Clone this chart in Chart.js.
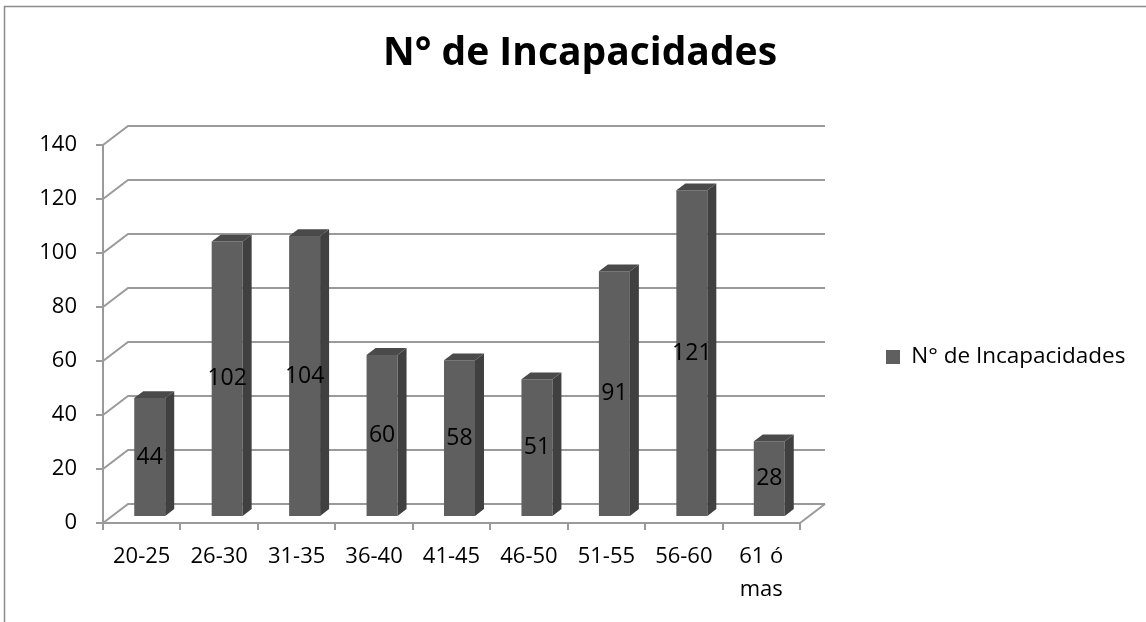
<!DOCTYPE html>
<html>
<head>
<meta charset="utf-8">
<script src="https://cdn.jsdelivr.net/npm/chart.js@4.4.1/dist/chart.umd.min.js"></script>
<style>
  html, body { margin: 0; padding: 0; background: #fff; }
  #wrap { width: 1146px; height: 622px; }
</style>
</head>
<body>
<div id="wrap"><canvas id="chart" width="1146" height="622"></canvas></div>
<script>
// data
const categories = ["20-25", "26-30", "31-35", "36-40", "41-45", "46-50", "51-55", "56-60", ["61 ó", "mas"]];
const incapacidades = [44, 102, 104, 60, 58, 51, 91, 121, 28];
const seriesName = "N° de Incapacidades";
const titleText = "N° de Incapacidades";
const yMin = 0, yMax = 140, yStep = 20;

const FONT = "'Open Sans', sans-serif";
const GRID = "#9a9a9a";
const WALL = { dx: 25, dy: -19 };          // depth of the 3d box
const BAR_FRONT = 0.32, BAR_BACK = 0.68;   // where bars sit inside the depth
const FACE = "#5f5f5f", SIDE = "#404040", TOP = "#4a4a4a";

// fake 3d: back wall grid, bar sides and tops, value labels
const wall3d = {
  id: "wall3d",
  afterLayout(chart) {
    const lg = chart.legend;
    if (lg) {
      const p = lg.options.labels.padding;
      const h = lg.height;
      lg.left = 886 - p;
      lg.right = chart.width;
      lg.width = lg.right - lg.left;
      lg.top = 357 - h / 2;
      lg.bottom = lg.top + h;
    }
    const tb = chart.titleBlock;
    if (tb) {
      tb.left += 7;
      tb.right += 7;
    }
  },
  beforeDraw(chart) {
    const ctx = chart.ctx;
    ctx.save();
    ctx.strokeStyle = "#8c8c8c";
    ctx.lineWidth = 1.5;
    ctx.beginPath();
    ctx.moveTo(4.5, chart.height);
    ctx.lineTo(4.5, 6.5);
    ctx.lineTo(chart.width, 6.5);
    ctx.stroke();
    ctx.restore();
  },
  beforeDatasetsDraw(chart) {
    const { ctx, scales: { x, y } } = chart;
    ctx.save();
    ctx.strokeStyle = GRID;
    ctx.lineWidth = 2;
    y.ticks.forEach(t => {
      const py = y.getPixelForValue(t.value);
      ctx.beginPath();
      ctx.moveTo(x.left, py);
      ctx.lineTo(x.left + WALL.dx, py + WALL.dy);
      ctx.lineTo(x.right + WALL.dx, py + WALL.dy);
      ctx.stroke();
    });
    const y0 = y.getPixelForValue(yMin);
    ctx.beginPath();
    ctx.moveTo(x.right, y0);
    ctx.lineTo(x.right + WALL.dx, y0 + WALL.dy);
    ctx.stroke();
    ctx.restore();
    // bars are drawn a bit back in the box
    ctx.save();
    ctx.translate(WALL.dx * BAR_FRONT, WALL.dy * BAR_FRONT);
  },
  afterDatasetsDraw(chart) {
    const ctx = chart.ctx;
    const ddx = WALL.dx * (BAR_BACK - BAR_FRONT);
    const ddy = WALL.dy * (BAR_BACK - BAR_FRONT);
    chart.getDatasetMeta(0).data.forEach((bar, i) => {
      const { x, y, base, width } = bar.getProps(["x", "y", "base", "width"], true);
      const l = x - width / 2, r = x + width / 2;
      ctx.fillStyle = SIDE;
      ctx.beginPath();
      ctx.moveTo(r, y); ctx.lineTo(r + ddx, y + ddy); ctx.lineTo(r + ddx, base + ddy); ctx.lineTo(r, base);
      ctx.closePath(); ctx.fill();
      ctx.fillStyle = TOP;
      ctx.beginPath();
      ctx.moveTo(l, y); ctx.lineTo(l + ddx, y + ddy); ctx.lineTo(r + ddx, y + ddy); ctx.lineTo(r, y);
      ctx.closePath(); ctx.fill();
      ctx.fillStyle = "#000";
      ctx.font = "23px " + FONT;
      ctx.textAlign = "center";
      ctx.textBaseline = "middle";
      ctx.fillText(String(incapacidades[i]), x, (y + base) / 2);
    });
    ctx.restore();
  }
};

function build() {
  new Chart(document.getElementById("chart"), {
    type: "bar",
    data: {
      labels: categories,
      datasets: [{
        label: seriesName,
        data: incapacidades,
        backgroundColor: FACE,
        borderWidth: 0,
        barPercentage: 0.4,
        categoryPercentage: 1
      }]
    },
    options: {
      responsive: false,
      animation: false,
      devicePixelRatio: 1,
      layout: { padding: 0 },
      plugins: {
        title: {
          display: true,
          text: titleText,
          color: "#000",
          font: { family: FONT, size: 39, weight: "bold", lineHeight: 1.2 },
          padding: { top: 30.6, bottom: 67.6 }
        },
        legend: {
          position: "right",
          maxWidth: 346,
          labels: {
            color: "#000",
            font: { family: FONT, size: 22.5 },
            boxWidth: 14,
            boxHeight: 14,
            padding: 120
          }
        },
        tooltip: { enabled: false }
      },
      scales: {
        x: {
          grid: { display: true, drawOnChartArea: false, drawTicks: true, tickLength: 7, color: GRID, lineWidth: 2, offset: true },
          border: { display: true, color: GRID, width: 2 },
          ticks: { color: "#000", font: { family: FONT, size: 22, lineHeight: 1.5 }, padding: 10, maxRotation: 0, autoSkip: false },
          afterFit(s) { s.height = 99; }
        },
        y: {
          min: yMin,
          max: yMax,
          ticks: { stepSize: yStep, color: "#000", font: { family: FONT, size: 22 }, padding: 19 },
          grid: { drawOnChartArea: false, tickLength: 7, color: GRID, lineWidth: 2 },
          border: { color: GRID, width: 2 },
          afterFit(s) { s.width = 103; }
        }
      }
    },
    plugins: [wall3d]
  });
}

Promise.all([
  document.fonts.load("22px 'Open Sans'"),
  document.fonts.load("bold 39px 'Open Sans'")
]).then(build, build);
</script>
</body>
</html>
